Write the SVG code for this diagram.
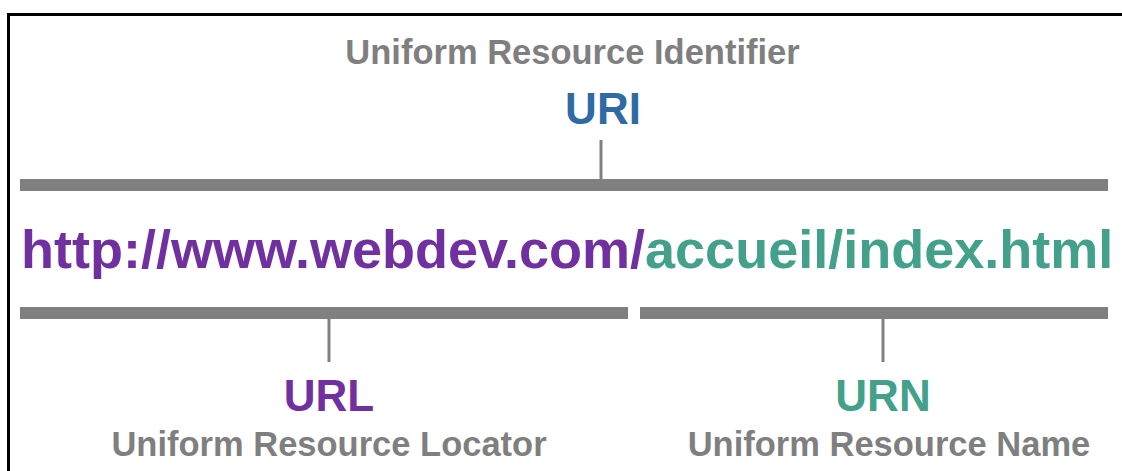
<svg xmlns="http://www.w3.org/2000/svg" width="1122" height="471" viewBox="0 0 1122 471">
  <style>
    text { font-family: "Liberation Sans", Arial, Helvetica, sans-serif; font-weight: bold; }
    .caption { font-size: 34.5px; fill: #7f7f7f; text-anchor: middle; }
    .acronym { font-size: 44px; text-anchor: middle; }
    .bar { fill: #808080; }
    .tick { stroke: #808080; stroke-width: 3; }
    .uri { fill: #2f6aa2; }
    .url { fill: #7030a0; }
    .urn { fill: #42a08b; }
  </style>
  <rect width="1122" height="471" fill="#ffffff"/>
  <!-- frame: only top and left edges visible -->
  <path d="M8.5 471 V14.5 H1122" fill="none" stroke="#000000" stroke-width="3"/>

  <g id="uri-node">
    <text class="caption" x="572.5" y="64">Uniform Resource Identifier</text>
    <text class="acronym uri" x="603" y="124">URI</text>
  </g>

  <g id="address">
    <text x="21" y="268" font-size="54"><tspan class="url">http://www.webdev.com/</tspan><tspan class="urn">accueil/index.html</tspan></text>
  </g>

  <g id="url-node">
    <text class="acronym url" x="329" y="411">URL</text>
    <text class="caption" x="329" y="456">Uniform Resource Locator</text>
  </g>

  <g id="urn-node">
    <text class="acronym urn" x="883" y="411">URN</text>
    <text class="caption" x="889" y="456">Uniform Resource Name</text>
  </g>

  <g id="connectors">
    <line class="tick" x1="601" y1="140" x2="601" y2="180"/>
    <rect class="bar" x="20" y="179" width="1088" height="12"/>
    <rect class="bar" x="20" y="307" width="608" height="12"/>
    <rect class="bar" x="640" y="307" width="468" height="12"/>
    <line class="tick" x1="329" y1="318" x2="329" y2="362"/>
    <line class="tick" x1="883" y1="318" x2="883" y2="362"/>
  </g>
</svg>
